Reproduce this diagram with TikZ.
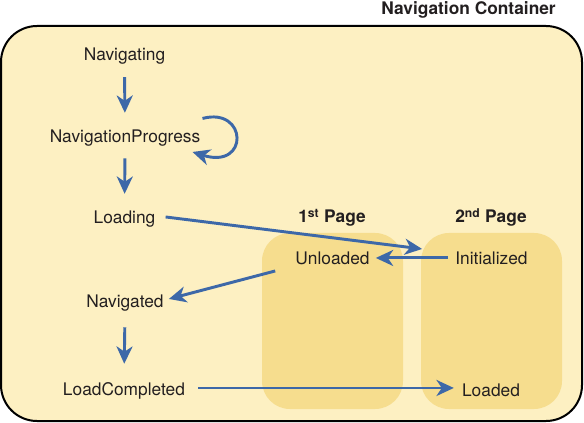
\documentclass[tikz,border=0pt]{standalone}
\usepackage{amsmath}
\usepackage{xcolor}
\usepackage{fontspec}
\setmainfont{TeX Gyre Heros}
\usepackage{tikz}
\usetikzlibrary{arrows.meta}

\definecolor{containerfill}{HTML}{FDF0C2}
\definecolor{pagefill}{HTML}{F6DD8E}
\definecolor{flowblue}{HTML}{3D68A8}
\definecolor{textdark}{HTML}{231F20}

\begin{document}
\begin{tikzpicture}[x=0.75pt,y=0.75pt,yscale=-1,xscale=1,
  evt/.style={anchor=base,inner sep=0.75pt,text=textdark,font=\fontsize{13}{15.6}\selectfont,text height=9.5pt,text depth=2.7pt},
  heading/.style={anchor=base,inner sep=0.75pt,text=textdark,font=\fontsize{13}{15.6}\selectfont\bfseries},
  flow/.style={draw=flowblue,line width=2.2pt,-{Stealth[length=13pt,width=12pt,inset=4pt]}}]
\useasboundingbox (0,0) rectangle (584,423);

%Shape: Rounded Rect [id:container]
\draw [fill=containerfill,line width=1.5pt,rounded corners=27pt] (1,26) rectangle (582,421);
%Shape: Rounded Rect [id:page one]
\fill [pagefill,rounded corners=21pt] (262,233) rectangle (403,409);
%Shape: Rounded Rect [id:page two]
\fill [pagefill,rounded corners=21pt] (421,233) rectangle (562,409);

% Text Node
\node [heading,anchor=base east] (title) at (557,15) {Navigation Container};
% Text Node
\node [heading] (pageone) at (332,223) {1\textsuperscript{st} Page};
% Text Node
\node [heading] (pagetwo) at (491,223) {2\textsuperscript{nd} Page};

% Text Node
\node [evt] (nav) at (124.5,61) {Navigating};
% Text Node
\node [evt] (navprog) at (125,143) {NavigationProgress};
% Text Node
\node [evt] (loading) at (124.5,224) {Loading};
% Text Node
\node [evt] (unloaded) at (332.5,265) {Unloaded};
% Text Node
\node [evt] (initialized) at (491.5,265) {Initialized};
% Text Node
\node [evt] (navigated) at (125,308) {Navigated};
% Text Node
\node [evt] (loadcompl) at (124,395) {LoadCompleted};
% Text Node
\node [evt] (loaded) at (491,396) {Loaded};

%Straight Lines [id:flow arrows]
\draw [flow,shorten <=8.5pt,shorten >=12.2pt] (nav.south) -- (navprog.north);
\draw [flow,shorten <=7.8pt,shorten >=12.2pt] (navprog.south) -- (loading.north);
\draw [flow,shorten <=10.8pt,shorten >=13pt] (navigated.south) -- (loadcompl.north);
\draw [flow] ([shift={(9,-2.5)}]loading.east) -- ([shift={(-32,-11.5)}]initialized.west);
\draw [flow] ([shift={(-6,-2.5)}]initialized.west) -- ([shift={(5,-2.5)}]unloaded.east);
\draw [flow] ([shift={(-19,10.5)}]unloaded.west) -- ([shift={(4,-4.5)}]navigated.east);
\draw [flow] ([shift={(12,-2.5)}]loadcompl.east) -- ([shift={(-7,-3.5)}]loaded.west);
%Curve Lines [id:self loop]
\draw [flow] ([shift={(1,-20)}]navprog.east) .. controls +(45,-12) and +(57,18) .. ([shift={(-9,13.5)}]navprog.east);
\end{tikzpicture}
\end{document}
